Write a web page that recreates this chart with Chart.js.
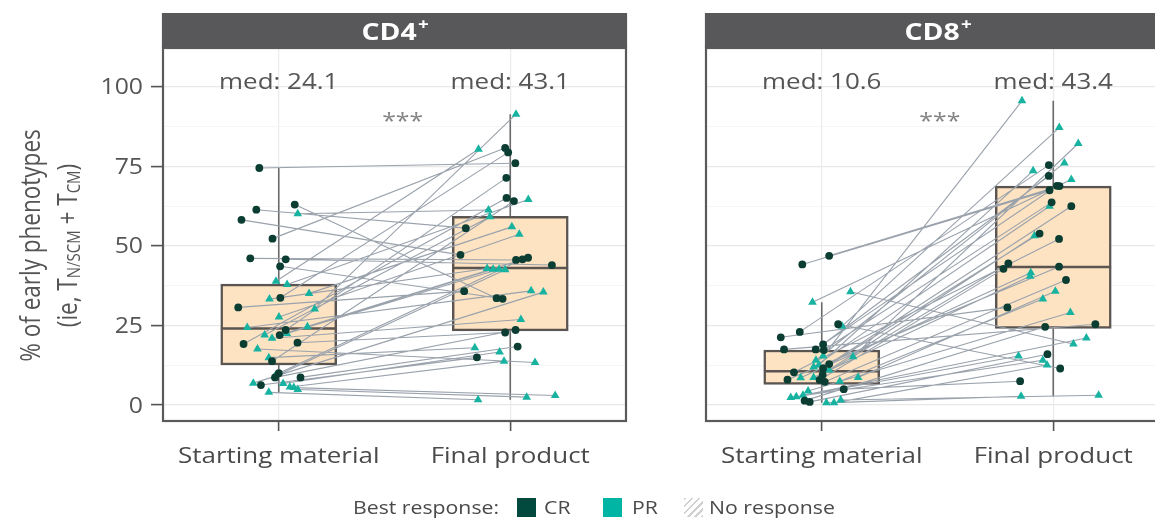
<!DOCTYPE html>
<html>
<head>
<meta charset="utf-8">
<script src="https://cdn.jsdelivr.net/npm/chart.js@4"></script>
<style>
  html, body { margin: 0; padding: 0; background: #fff; overflow: hidden; width: 1155px; height: 521px; }
  #wrap { position: relative; width: 1155px; height: 521px; overflow: hidden; }
  canvas { position: absolute; top: 0; }
  #cd4 { left: 0; }
  #cd8 { left: 660px; }
  .lg { position: absolute; top: 496px; height: 22px; line-height: 22px; font-family: 'Open Sans', sans-serif; font-size: 18px;
        color: #4a4a4a; white-space: nowrap; transform: scaleX(1.18); transform-origin: left center; }
  .sw { position: absolute; top: 498px; width: 19px; height: 19px; }
</style>
</head>
<body>
<div id="wrap">
  <canvas id="cd4" width="640" height="521"></canvas>
  <canvas id="cd8" width="520" height="521"></canvas>
  <span class="lg" style="left:353px">Best response:</span>
  <span class="sw" style="left:517px; background:#014a3d"></span>
  <span class="lg" style="left:544px">CR</span>
  <span class="sw" style="left:603px; background:#00b5a3"></span>
  <span class="lg" style="left:632px">PR</span>
  <span class="sw" style="left:684px; background:repeating-linear-gradient(135deg, #cfcfcf 0 2px, #fff 2px 5px)"></span>
  <span class="lg" style="left:709px">No response</span>
</div>
<script>
const groups = ['Starting material', 'Final product'];
const yTicks = [0, 25, 50, 75, 100];
const signif = '***';

// CD4+ : one entry per patient (start -> final), CR first then PR
const cd4Resp = Array(19).fill('CR').concat(Array(21).fill('PR'));
const cd4Start = [74.5, 52.3, 61.4, 45.8, 63.0, 46.1, 43.6, 58.2, 30.7, 33.7, 23.6, 22.0, 19.6, 19.2, 13.8, 10.0, 8.7, 8.7, 6.3,
  60.1, 38.9, 37.9, 35.1, 33.3, 30.2, 27.7, 24.6, 24.4, 22.5, 22.0, 21.0, 17.6, 14.9, 9.0, 6.9, 6.8, 5.7, 5.5, 4.9, 4.0];
const cd4StartJit = [-.084, -.027, -.097, .030, .069, -.123, .006, -.161, -.175, .007, .030, .004, .081, -.152, -.029, .000, -.016, .094, -.077,
  .082, -.012, .036, .131, -.040, .155, .001, .124, -.136, .035, -.061, -.029, -.092, -.043, -.017, -.110, .019, .048, .065, .082, -.043];
const cd4Final = [76.0, 80.8, 55.6, 44.0, 33.6, 45.6, 33.4, 47.2, 35.8, 79.4, 71.4, 46.3, 22.8, 65.1, 64.1, 45.8, 23.6, 18.4, 15.0,
  61.3, 80.4, 64.6, 56.0, 42.9, 91.4, 53.7, 42.7, 35.9, 42.7, 59.2, 26.9, 13.4, 18.0, 42.5, 35.5, 16.7, 13.8, 3.0, 2.5, 1.7];
const cd4FinalJit = [.022, -.022, -.192, .180, -.059, .025, -.033, -.215, -.199, -.009, -.017, .077, -.022, -.016, .016, .053, .023, .032, -.144,
  -.094, -.137, .078, .007, -.100, .025, .039, -.074, .090, -.048, -.088, .046, .107, -.153, -.022, .143, -.046, -.027, .194, .071, -.139];
const cd4Median = [24.1, 43.1];
const cd4Q1 = [12.6, 23.3];
const cd4Q3 = [38.0, 59.3];
const cd4Low = [4.0, 1.7];
const cd4High = [74.5, 91.4];

// CD8+
const cd8Resp = Array(19).fill('CR').concat(Array(20).fill('PR'));
const cd8Start = [44.2, 46.9, 5.0, 25.4, 23.0, 21.3, 19.1, 17.5, 17.5, 17.3, 12.9, 11.5, 10.3, 9.5, 8.0, 7.9, 7.3, 1.4, 1.0,
  35.6, 15.4, 0.7, 1.6, 32.3, 24.8, 15.2, 14.1, 12.6, 12.0, 11.0, 8.6, 8.7, 8.7, 7.5, 4.4, 3.1, 2.6, 2.4, 0.7];
const cd8StartJit = [-.084, .032, .095, .071, -.095, -.177, .006, -.163, -.026, .009, .032, .006, -.120, .004, -.148, -.009, .013, -.074, -.052,
  .124, .006, .020, .082, -.040, .088, .135, -.025, -.012, -.035, .032, -.091, -.035, .157, .078, -.059, -.081, -.110, -.134, .053];
const cd8Final = [67.5, 68.8, 7.5, 11.5, 75.4, 30.7, 72.0, 25.4, 68.9, 63.7, 62.5, 53.9, 52.2, 44.5, 43.5, 42.8, 39.3, 24.6, 16.0,
  19.2, 95.6, 2.8, 3.1, 70.9, 87.2, 82.2, 76.1, 73.6, 62.5, 53.2, 41.6, 40.5, 35.8, 33.3, 29.1, 21.1, 15.4, 14.1, 12.6];
const cd8FinalJit = [-.016, .027, -.143, .030, -.019, -.198, -.019, .182, .016, -.007, .078, -.059, .025, -.194, .025, -.215, .055, -.035, -.025,
  .087, -.135, -.139, .196, .078, .026, .108, .048, -.087, -.016, -.081, -.097, -.100, .009, -.045, .074, .143, -.150, -.045, -.027];
const cd8Median = [10.6, 43.4];
const cd8Q1 = [6.5, 24.1];
const cd8Q3 = [17.3, 68.8];
const cd8Low = [0.7, 2.8];
const cd8High = [32.3, 95.6];

const FONT = "'Open Sans', sans-serif";
const TEXT = '#555555';
const BOXLINE = '#5b5552';
const SX = 1.18;   // text is set slightly wide

const gridValues = yTicks.concat(yTicks.slice(1).map((v, i) => (v + yTicks[i]) / 2));

function wideText(ctx, text, x, y, align) {
  ctx.save();
  ctx.translate(x, y);
  ctx.scale(SX, 1);
  ctx.textAlign = align || 'center';
  ctx.fillText(text, 0, 0);
  ctx.restore();
}

// strip, panel frame, axis labels, median labels and the y title
const decor = {
  id: 'decor',
  afterDraw(chart, args, o) {
    const { ctx, chartArea: a, scales: { x, y } } = chart;
    ctx.save();
    ctx.strokeStyle = '#5a5a5a';
    ctx.lineWidth = 2.2;
    ctx.strokeRect(a.left, a.top, a.right - a.left, a.bottom - a.top);

    // facet strip
    ctx.fillStyle = '#58585a';
    ctx.fillRect(a.left - 1.1, 13, a.right - a.left + 2.2, a.top - 13);
    ctx.fillStyle = '#fff';
    ctx.textBaseline = 'alphabetic';
    ctx.font = 'bold 24px ' + FONT;
    const w1 = ctx.measureText(o.title).width;
    ctx.font = 'bold 16px ' + FONT;
    const w2 = ctx.measureText('+').width;
    ctx.save();
    ctx.translate((a.left + a.right) / 2, 0);
    ctx.scale(SX, 1);
    ctx.textAlign = 'left';
    ctx.font = 'bold 24px ' + FONT;
    ctx.fillText(o.title, -(w1 + w2) / 2, 39.5);
    ctx.font = 'bold 16px ' + FONT;
    ctx.fillText('+', -(w1 + w2) / 2 + w1 + 1, 30);
    ctx.restore();

    // medians and significance
    ctx.fillStyle = TEXT;
    ctx.font = '22px ' + FONT;
    o.median.forEach((m, k) => wideText(ctx, 'med: ' + m.toFixed(1), x.getPixelForValue(k + 1), y.getPixelForValue(99.4)));
    ctx.fillStyle = '#858585';
    ctx.font = '21px ' + FONT;
    wideText(ctx, signif, x.getPixelForValue(o.sigX), y.getPixelForValue(87.0));

    // category labels
    ctx.fillStyle = '#4a4a4a';
    ctx.font = '22px ' + FONT;
    groups.forEach((g, k) => wideText(ctx, g, x.getPixelForValue(k + 1), a.bottom + 42));

    if (o.yTitle) {
      ctx.fillStyle = TEXT;
      ctx.font = '21px ' + FONT;
      ctx.textBaseline = 'middle';
      yTicks.forEach(v => wideText(ctx, String(v), a.left - 20, y.getPixelForValue(v) + 1.5, 'right'));

      ctx.translate(0, (a.top + a.bottom) / 2 + 11);
      ctx.scale(SX, 1);
      ctx.rotate(-Math.PI / 2);
      ctx.textAlign = 'center';
      ctx.font = '22.5px ' + FONT;
      ctx.fillText('% of early phenotypes', 0, 32 / SX);
      const runs = [['(ie, T', 0], ['N/SCM', 1], [' + T', 0], ['CM', 1], [')', 0]];
      const fontFor = s => (s ? '15px ' : '22.5px ') + FONT;
      let total = 0;
      runs.forEach(r => { ctx.font = fontFor(r[1]); total += ctx.measureText(r[0]).width; });
      let px = -total / 2;
      ctx.textAlign = 'left';
      runs.forEach(r => {
        ctx.font = fontFor(r[1]);
        ctx.fillText(r[0], px, (r[1] ? 75 : 69.5) / SX);
        px += ctx.measureText(r[0]).width;
      });
    }
    ctx.restore();
  }
};

function panel(id, p) {
  const cr = [], pr = [], pairs = [], box = [], med = [], whisk = [];
  p.resp.forEach((r, i) => {
    const a = { x: 1 + p.startJit[i], y: p.start[i] };
    const b = { x: 2 + p.finalJit[i], y: p.final[i] };
    pairs.push(a, b, { x: 1.5, y: null });
    (r === 'CR' ? cr : pr).push(a, b);
  });
  [1, 2].forEach((x, k) => {
    box.push({ x, y: [p.q1[k], p.q3[k]] });
    med.push({ x: x - 0.25, y: p.median[k] }, { x: x + 0.25, y: p.median[k] }, { x: x + 0.3, y: null });
    whisk.push({ x, y: p.low[k] }, { x, y: p.q1[k] }, { x, y: null },
               { x, y: p.q3[k] }, { x, y: p.high[k] }, { x, y: null });
  });

  return new Chart(document.getElementById(id), {
    type: 'scatter',
    data: {
      datasets: [
        { type: 'scatter', data: cr, pointStyle: 'circle', pointRadius: 3.9, backgroundColor: '#0b3d33', borderWidth: 0, order: 0 },
        { type: 'scatter', data: pr, pointStyle: 'triangle', pointRadius: 5, backgroundColor: '#17b2a0', borderWidth: 0, order: 0 },
        { type: 'line', data: pairs, borderColor: '#9aa2ac', borderWidth: 1.1, pointRadius: 0, spanGaps: false, order: 1 },
        { type: 'line', data: med, borderColor: BOXLINE, borderWidth: 2.5, pointRadius: 0, spanGaps: false, order: 2 },
        { type: 'bar', data: box, backgroundColor: '#fde3c2', borderColor: BOXLINE, borderWidth: 2.5,
          borderSkipped: false, barThickness: 116, order: 3 },
        { type: 'line', data: whisk, borderColor: '#6a6a6a', borderWidth: 1.6, pointRadius: 0, spanGaps: false, order: 4 }
      ]
    },
    options: {
      responsive: false,
      animation: false,
      layout: { padding: { top: 48, right: p.padRight, left: 0, bottom: 0 } },
      plugins: {
        legend: { display: false },
        tooltip: { enabled: false },
        decor: { title: p.title, median: p.median, yTitle: p.yTitle, sigX: p.sigX }
      },
      scales: {
        x: {
          type: 'linear', min: 0.5, max: 2.5, offset: false,
          afterBuildTicks: s => { s.ticks = [1, 2].map(v => ({ value: v })); },
          afterFit: s => { s.height = 100; },
          border: { display: false },
          grid: { offset: false, color: '#ebebeb', lineWidth: 1.2, tickLength: 10, tickColor: '#555', tickWidth: 1.6 },
          ticks: { display: false }
        },
        y: {
          type: 'linear', min: -5, max: 112.2,
          afterBuildTicks: s => { s.ticks = gridValues.map(v => ({ value: v })); },
          afterFit: s => { s.width = p.axisWidth; },
          border: { display: false },
          grid: {
            color: c => yTicks.includes(c.tick.value) ? '#e8e8e8' : '#f2f2f2',
            lineWidth: c => yTicks.includes(c.tick.value) ? 1.2 : 0.8,
            drawTicks: p.yTitle, tickLength: 12, tickWidth: 1.6,
            tickColor: c => yTicks.includes(c.tick.value) ? '#555' : 'rgba(0,0,0,0)'
          },
          ticks: { display: false }
        }
      }
    },
    plugins: [decor]
  });
}

panel('cd4', { title: 'CD4', resp: cd4Resp, start: cd4Start, startJit: cd4StartJit, final: cd4Final, finalJit: cd4FinalJit,
  median: cd4Median, q1: cd4Q1, q3: cd4Q3, low: cd4Low, high: cd4High, yTitle: true, axisWidth: 163, padRight: 14, sigX: 1.535 });
panel('cd8', { title: 'CD8', resp: cd8Resp, start: cd8Start, startJit: cd8StartJit, final: cd8Final, finalJit: cd8FinalJit,
  median: cd8Median, q1: cd8Q1, q3: cd8Q3, low: cd8Low, high: cd8High, yTitle: false, axisWidth: 46, padRight: 11, sigX: 1.51 });
</script>
</body>
</html>
